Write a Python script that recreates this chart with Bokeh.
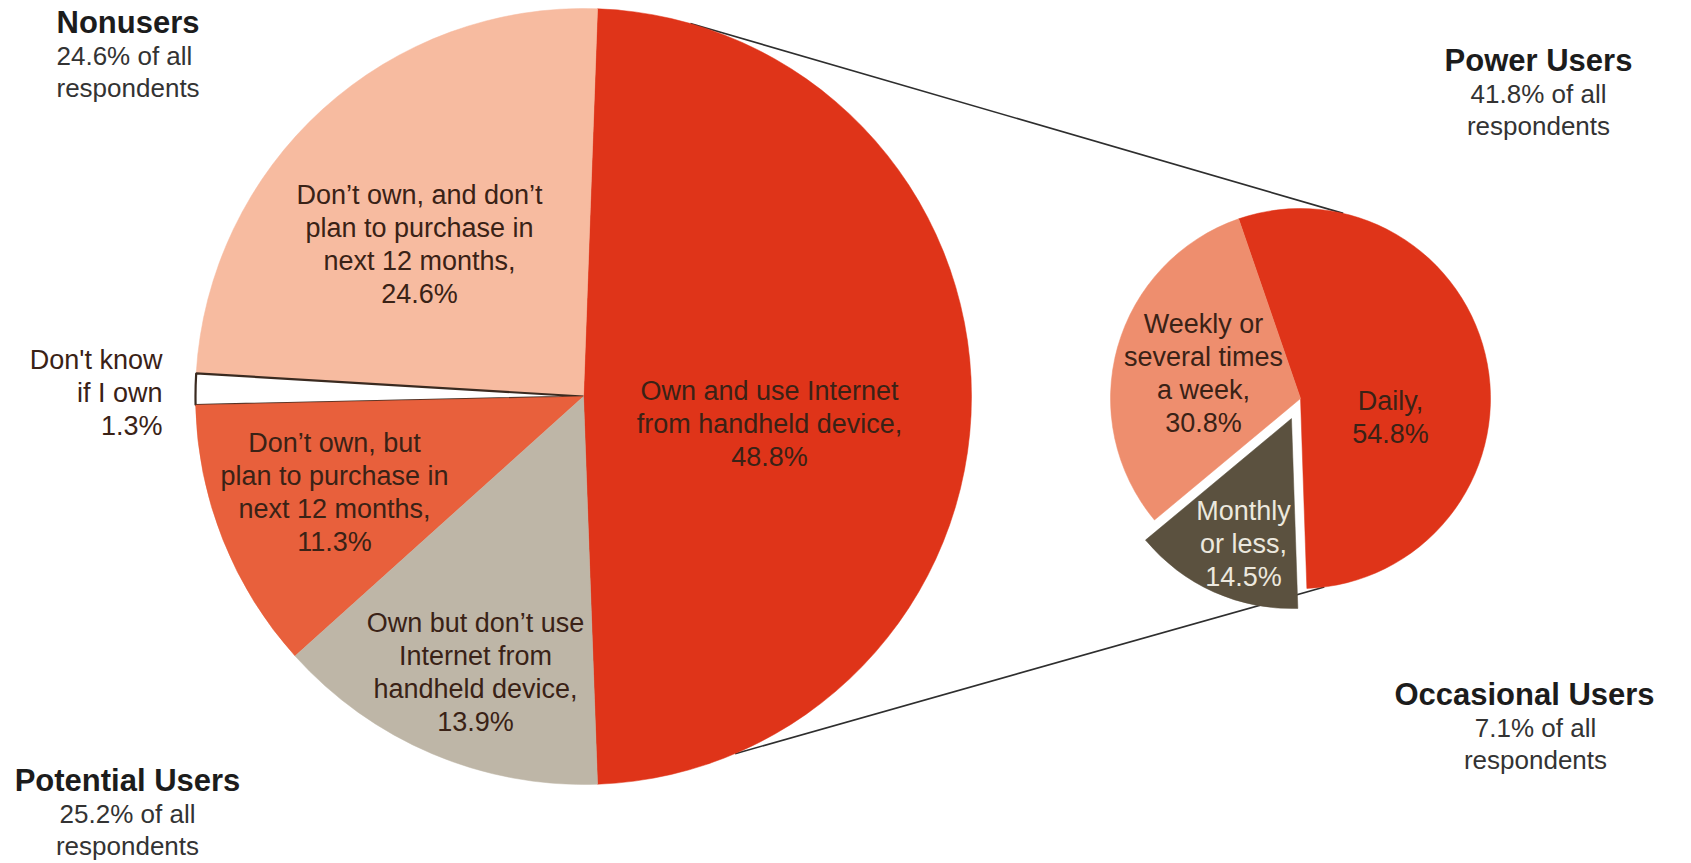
import math
from bokeh.plotting import figure
from bokeh.models import ColumnDataSource, Range1d
from bokeh.core.properties import value
from bokeh.embed import file_html
from bokeh.resources import INLINE

# ---------------- data ----------------
main_categories = [
    "Own and use Internet from handheld device",
    "Don't own, and don't plan to purchase in next 12 months",
    "Don't know if I own",
    "Don't own, but plan to purchase in next 12 months",
    "Own but don't use Internet from handheld device",
]
main_values = [48.8, 24.6, 1.3, 11.3, 13.9]
main_label_lines = [
    ["Own and use Internet", "from handheld device,"],
    ["Don\u2019t own, and don\u2019t", "plan to purchase in", "next 12 months,"],
    ["Don't know", "if I own"],
    ["Don\u2019t own, but", "plan to purchase in", "next 12 months,"],
    ["Own but don\u2019t use", "Internet from", "handheld device,"],
]

sub_categories = ["Daily", "Monthly or less", "Weekly or several times a week"]
sub_values = [54.8, 14.5, 30.8]
sub_label_lines = [
    ["Daily,"],
    ["Monthly", "or less,"],
    ["Weekly or", "several times", "a week,"],
]

group_names = ["Nonusers", "Potential Users", "Power Users", "Occasional Users"]
group_shares = [24.6, 25.2, 41.8, 7.1]

# ---------------- layout / style ----------------
W, H = 1691, 863
def Y(y):
    return H - y

main_c = (583, 396); main_r = 388
sub_c = (1300, 398); sub_r = 190
sub_explode = 22  # exploded slice (Monthly)

main_colors = ["#DF3419", "#F7BBA0", "#FFFFFF", "#E8603C", "#BEB6A7"]
sub_colors = ["#DF3419", "#5B513F", "#EE8E6E"]

main_label_pos = [(769, 390, "center"), (419, 194, "center"), (162, 359, "right"),
                  (334, 442, "center"), (475, 622, "center")]
sub_label_pos = [(1390, 400, "center"), (1243, 510, "center"), (1203, 323, "center")]
sub_label_colors = ["#3a2216", "#ece8de", "#3a2216"]
# (heading x, subtitle x, top y, align)
group_pos = [(56, 56, 22, "left"), (127, 127, 780, "center"),
             (1538, 1538, 60, "center"), (1524, 1535, 694, "center")]

BODY = "Liberation Sans"
BOLD = "Liberation Sans"
LINE = 33

p = figure(width=W, height=H, x_range=Range1d(0, W), y_range=Range1d(0, H),
           x_axis_type=None, y_axis_type=None, toolbar_location=None,
           output_backend="svg", min_border=0, outline_line_color=None,
           background_fill_color="white", border_fill_color="white")
p.grid.visible = False

# connector lines (drawn beneath pies)
def on_circle(c, r, deg):
    a = math.radians(deg)
    return c[0] + r * math.cos(a), Y(c[1]) + r * math.sin(a)

u0 = on_circle(main_c, main_r, 74.0); u1 = on_circle(sub_c, sub_r, 77.0)
l0 = on_circle(main_c, main_r, -67.0); l1 = on_circle(sub_c, sub_r, -82.8)
p.segment(x0=[u0[0], l0[0]], y0=[u0[1], l0[1]], x1=[u1[0], l1[0]], y1=[u1[1], l1[1]],
          line_color="#2e2e2e", line_width=1.6)

# main pie
tot = sum(main_values)
a0 = 2 * math.pi * main_values[0] / tot
starts, ends = [], []
s = -a0 / 2
for v in main_values:
    a = 2 * math.pi * v / tot
    starts.append(s); ends.append(s + a); s += a
line_cols = ["#DF3419", "#F7BBA0", "#3a2a20", "#E8603C", "#BEB6A7"]
line_w = [0.5, 0.5, 2.2, 0.5, 0.5]
src = ColumnDataSource(dict(x=[main_c[0]] * 5, y=[Y(main_c[1])] * 5, start=starts, end=ends,
                            color=main_colors, lc=line_cols, lw=line_w))
p.wedge(x="x", y="y", radius=main_r, start_angle="start", end_angle="end",
        fill_color="color", line_color="lc", line_width="lw", source=src)

# second pie
tot2 = sum(sub_values)
e = math.radians(109.0)
xs, ys, st2, en2 = [], [], [], []
for i, v in enumerate(sub_values):
    a = 2 * math.pi * v / tot2
    st2.append(e - a); en2.append(e)
    mid = e - a / 2
    off = sub_explode if i == 1 else 0
    xs.append(sub_c[0] + off * math.cos(mid)); ys.append(Y(sub_c[1]) + off * math.sin(mid))
    e -= a
src2 = ColumnDataSource(dict(x=xs, y=ys, start=st2, end=en2, color=sub_colors))
p.wedge(x="x", y="y", radius=sub_r, start_angle="start", end_angle="end",
        fill_color="color", line_color="color", line_width=0.5, source=src2)

# texts
def draw_lines(lines, x, y0, align, font, size, color, style="normal"):
    p.text(x=[x] * len(lines), y=[Y(y0 + i * LINE) for i in range(len(lines))], text=lines,
           text_font=value(font), text_font_size=size, text_color=color,
           text_align=align, text_baseline="middle", text_font_style=style)

for lines, v, (x, y, al) in zip(main_label_lines, main_values, main_label_pos):
    draw_lines(lines + [f"{v}%"], x, y, al, BODY, "27px", "#3a2216")
for lines, v, (x, y, al), col in zip(sub_label_lines, sub_values, sub_label_pos, sub_label_colors):
    draw_lines(lines + [f"{v}%"], x, y, al, BODY, "27px", col)
for name, share, (hx, sx, y, al) in zip(group_names, group_shares, group_pos):
    draw_lines([name], hx, y, al, BOLD, "31px", "#1c1c1c", "bold")
    p.text(x=[sx, sx], y=[Y(y + 33), Y(y + 65)], text=[f"{share}% of all", "respondents"],
           text_font=value(BODY), text_font_size="26px", text_color="#333333",
           text_align=al, text_baseline="middle")

open("out.html", "w").write(file_html(p, INLINE))
